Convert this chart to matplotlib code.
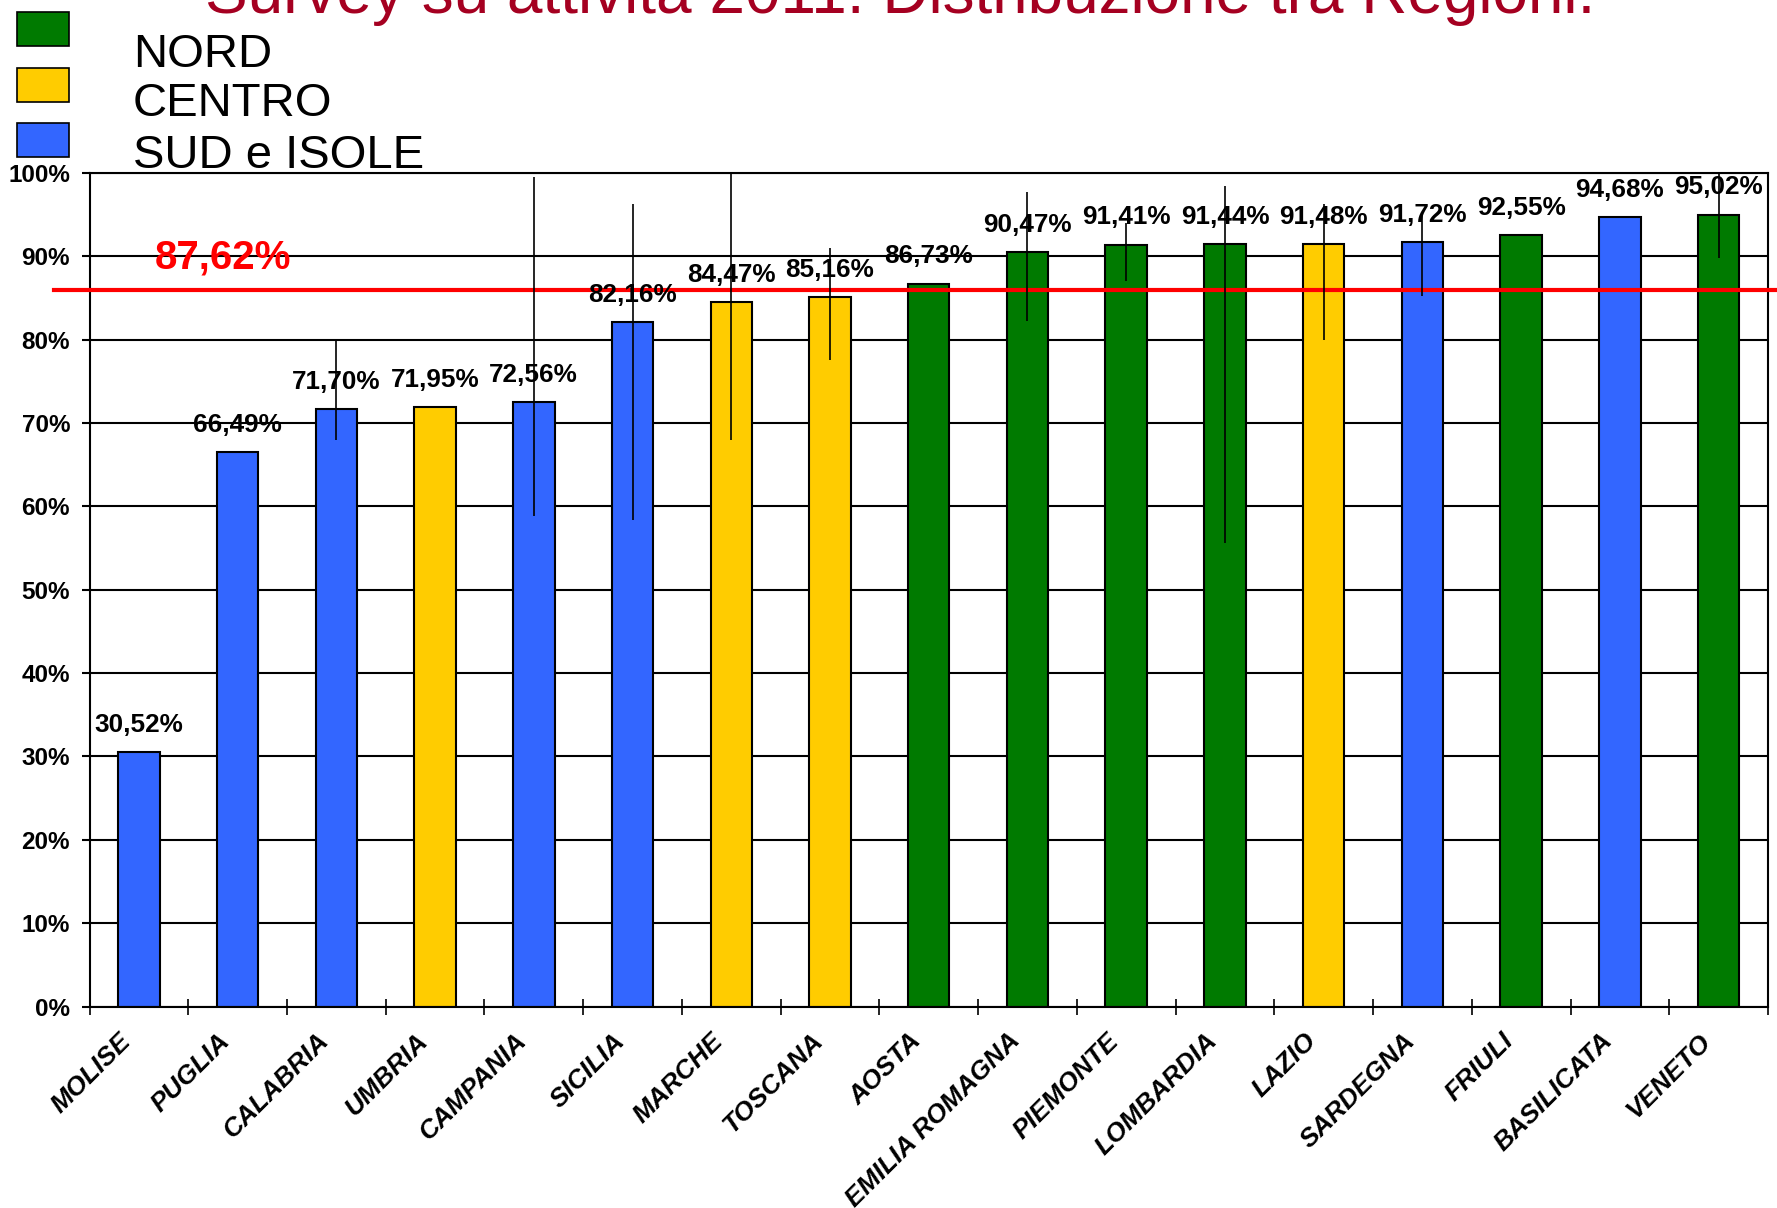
import numpy as np
import matplotlib
matplotlib.use("Agg")
import matplotlib.pyplot as plt
from matplotlib.patches import Rectangle
from matplotlib.transforms import ScaledTranslation

plt.rcParams['font.family'] = ['Liberation Sans', 'DejaVu Sans']

# data
regions = ['MOLISE', 'PUGLIA', 'CALABRIA', 'UMBRIA', 'CAMPANIA', 'SICILIA',
           'MARCHE', 'TOSCANA', 'AOSTA', 'EMILIA ROMAGNA', 'PIEMONTE',
           'LOMBARDIA', 'LAZIO', 'SARDEGNA', 'FRIULI', 'BASILICATA', 'VENETO']
values = [30.52, 66.49, 71.70, 71.95, 72.56, 82.16, 84.47, 85.16, 86.73,
          90.47, 91.41, 91.44, 91.48, 91.72, 92.55, 94.68, 95.02]
area = ['SUD', 'SUD', 'SUD', 'CENTRO', 'SUD', 'SUD', 'CENTRO', 'CENTRO', 'NORD',
        'NORD', 'NORD', 'NORD', 'CENTRO', 'SUD', 'NORD', 'SUD', 'NORD']
# vertical range lines (low, high); None = no line
err_low = [None, None, 68.0, None, 58.8, 58.4, 68.0, 77.6, None,
           82.2, 87.0, 55.6, 80.0, 85.3, None, None, 89.8]
err_high = [None, None, 80.0, None, 99.5, 96.3, 100.0, 91.0, None,
            97.7, 94.0, 98.4, 96.3, 95.0, None, None, 100.0]
mean_line = 86.0
mean_label = '87,62%'

legend_names = ['NORD', 'CENTRO', 'SUD e ISOLE']
colors = {'NORD': '#007A00', 'CENTRO': '#FFCC00', 'SUD': '#3366FF'}
title = 'Survey su attività 2011: Distribuzione tra Regioni.'

W, H = 1777, 1208
fig = plt.figure(figsize=(W / 100, H / 100), dpi=100)
ax = fig.add_axes([89.5 / W, 1 - 1006.5 / H, (1768 - 89.5) / W, (1006.5 - 173) / H])

x = np.arange(len(regions))
ax.bar(x, values, width=0.42, color=[colors[a] for a in area],
       edgecolor='black', linewidth=1.5, zorder=2)

for xi, lo, hi in zip(x, err_low, err_high):
    if lo is not None:
        ax.vlines(xi, lo, hi, color='black', linewidth=1.2, zorder=4, clip_on=False)

for xi, v in zip(x, values):
    ax.annotate(('%.2f%%' % v).replace('.', ','), (xi, v), xytext=(0, 14.5),
                textcoords='offset points', ha='center', va='baseline',
                fontsize=18.8, fontweight='bold', zorder=5)

ax.plot([-0.864, 16.8], [mean_line, mean_line], color='#FF0000', linewidth=3,
        clip_on=False, zorder=3)
ax.text(0.163, 88.6, mean_label, color='#FF0000', fontsize=29, fontweight='bold',
        ha='left', va='baseline')

ax.set_xlim(-0.5, len(regions) - 0.5)
ax.set_ylim(0, 100)
ax.set_yticks(np.arange(0, 101, 10))
ax.set_yticklabels(['%d%%' % t for t in range(0, 101, 10)], fontsize=17.5,
                   fontweight='bold')
ax.yaxis.grid(True, color='black', linewidth=1.5, zorder=0)
ax.set_axisbelow(True)
ax.tick_params(axis='y', length=6, width=1.5, pad=8, direction='out')

ax.set_xticks(np.arange(-0.5, len(regions), 1.0))
ax.set_xticklabels([])
ax.tick_params(axis='x', length=11, width=1.2, direction='inout')
ax.set_xticks(x, minor=True)
ax.set_xticklabels(regions, minor=True, rotation=45, ha='right',
                   rotation_mode='anchor', fontsize=19, fontweight='bold',
                   style='italic')
ax.tick_params(axis='x', which='minor', length=0, pad=16)
shift = ScaledTranslation(-0.2, 0, fig.dpi_scale_trans)
for lbl in ax.get_xticklabels(minor=True):
    lbl.set_transform(lbl.get_transform() + shift)
for s in ax.spines.values():
    s.set_linewidth(1.5)

# legend boxes
for i, (name, key) in enumerate(zip(legend_names, ['NORD', 'CENTRO', 'SUD'])):
    y0 = [12, 68, 123][i]
    fig.patches.append(Rectangle((17 / W, 1 - (y0 + 34) / H), 52 / W, 34 / H,
                                 transform=fig.transFigure, facecolor=colors[key],
                                 edgecolor='black', linewidth=1.2))
    fig.text(133 / W, 1 - [55, 104, 156][i] / H, name, fontsize=34,
             ha='left', va='center')

fig.text(900 / W, 1 - 13 / H, title, color='#A50021', fontsize=46,
         ha='center', va='baseline')

fig.savefig('out.png', dpi=100)
